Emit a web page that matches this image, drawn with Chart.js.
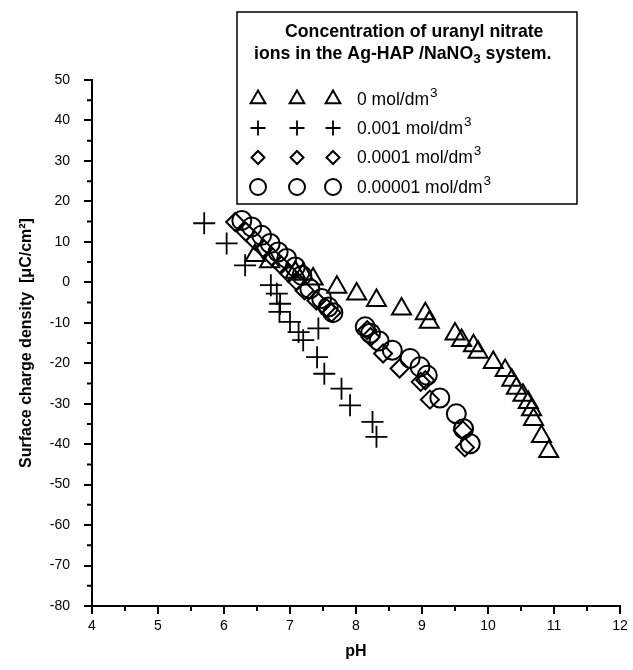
<!DOCTYPE html>
<html>
<head>
<meta charset="utf-8">
<title>Surface charge density vs pH</title>
<script src="https://cdn.jsdelivr.net/npm/chart.js"></script>
<style>
  html, body { margin: 0; padding: 0; background: #fff; }
  #wrap { width: 633px; height: 670px; }
</style>
</head>
<body>
<div id="wrap"><canvas id="chart" width="633" height="670"></canvas></div>
<script>
// --- Data ---
// 0 mol/dm3 (triangles)
const phTri = [6.47, 6.69, 7.08, 7.20, 7.35, 7.71, 8.01, 8.31, 8.69, 9.05, 9.11, 9.50, 9.60, 9.78, 9.85, 10.08, 10.26, 10.36, 10.43, 10.53, 10.61, 10.66, 10.69, 10.81, 10.92];
const qTri  = [6.6, 5.1, 2.5, 2.0, 0.8, -1.2, -2.9, -4.5, -6.6, -7.8, -9.9, -12.8, -14.4, -15.7, -17.3, -19.8, -21.8, -24.2, -26.2, -27.9, -29.7, -31.5, -33.9, -38.1, -41.8];
// 0.001 mol/dm3 (crosses)
const phCross = [5.70, 6.04, 6.32, 6.71, 6.80, 6.85, 6.84, 7.00, 7.13, 7.20, 7.43, 7.41, 7.52, 7.78, 7.91, 8.25, 8.31];
const qCross  = [14.6, 9.6, 4.2, -0.7, -2.8, -5.3, -7.3, -9.8, -12.3, -14.3, -11.4, -18.5, -22.6, -26.3, -30.4, -34.5, -38.2];
// 0.0001 mol/dm3 (diamonds)
const phDia = [6.17, 6.33, 6.47, 6.60, 6.73, 6.86, 6.98, 7.10, 7.22, 7.40, 7.55, 7.63, 8.17, 8.22, 8.41, 8.66, 8.98, 9.05, 9.12, 9.62, 9.65];
const qDia  = [14.9, 12.5, 10.3, 8.3, 6.3, 4.3, 2.3, 0.3, -2.0, -4.5, -6.3, -7.5, -11.8, -13.5, -17.6, -21.3, -24.6, -24.2, -29.0, -36.6, -40.8];
// 0.00001 mol/dm3 (circles)
const phCir = [6.27, 6.42, 6.57, 6.70, 6.82, 6.95, 7.08, 7.18, 7.30, 7.48, 7.58, 7.65, 8.14, 8.22, 8.35, 8.55, 8.82, 8.97, 9.08, 9.27, 9.52, 9.63, 9.73];
const qCir  = [15.3, 13.7, 11.6, 9.6, 7.5, 5.9, 3.8, 1.7, -1.6, -4.0, -6.1, -7.5, -11.0, -12.6, -14.5, -16.8, -18.8, -20.9, -23.0, -28.6, -32.5, -36.2, -39.9];

const seriesLabels = ['0 mol/dm', '0.001 mol/dm', '0.0001 mol/dm', '0.00001 mol/dm'];
const seriesStyles = ['triangle', 'cross', 'rectRot', 'circle'];
const seriesRadius = [11, 11, 9, 9.5];
const legendRadius = [8.5, 7.5, 6.5, 8];

const X_MIN = 4, X_MAX = 12, Y_MIN = -80, Y_MAX = 50;

const toPoints = (xs, ys) => xs.map((x, i) => ({ x: x, y: ys[i] }));

const FONT = 'Arial, "Liberation Sans", sans-serif';
Chart.defaults.font.family = FONT;
Chart.defaults.color = '#000';

// --- draws one marker (legend) with the library helper ---
function drawMarker(ctx, style, r, x, y) {
  ctx.save();
  ctx.strokeStyle = '#000';
  ctx.fillStyle = 'rgba(0,0,0,0)';
  ctx.lineWidth = style === 'cross' ? 1.8 : 2;
  Chart.helpers.drawPoint(ctx, { pointStyle: style, radius: r, borderWidth: ctx.lineWidth, rotation: 0 }, x, y);
  ctx.restore();
}

// minor ticks at half steps, outward like the major ones
const minorTicks = {
  id: 'minorTicks',
  afterDraw(chart) {
    const { ctx, scales: { x, y } } = chart;
    ctx.save();
    ctx.strokeStyle = '#000';
    ctx.lineWidth = 2;
    ctx.beginPath();
    for (let v = X_MIN + 0.5; v < X_MAX; v += 1) {
      const px = x.getPixelForValue(v);
      ctx.moveTo(px, x.top);
      ctx.lineTo(px, x.top + 5);
    }
    for (let v = Y_MIN + 5; v < Y_MAX; v += 10) {
      const py = y.getPixelForValue(v);
      ctx.moveTo(y.right, py);
      ctx.lineTo(y.right - 5, py);
    }
    ctx.stroke();
    ctx.restore();
  }
};

// boxed legend in the upper right
const boxLegend = {
  id: 'boxLegend',
  afterDraw(chart) {
    const ctx = chart.ctx;
    ctx.save();
    ctx.fillStyle = '#fff';
    ctx.fillRect(237, 12, 340, 192);
    ctx.strokeStyle = '#000';
    ctx.lineWidth = 1.5;
    ctx.strokeRect(237, 12, 340, 192);

    ctx.fillStyle = '#000';
    ctx.textBaseline = 'middle';
    ctx.textAlign = 'left';
    ctx.font = 'bold 17.7px ' + FONT;
    ctx.fillText('Concentration of uranyl nitrate', 285, 32);
    // second line with subscript 3
    let x = 254;
    const part1 = 'ions in the Ag-HAP /NaNO';
    ctx.fillText(part1, x, 54);
    x += ctx.measureText(part1).width;
    ctx.font = 'bold 13.5px ' + FONT;
    ctx.fillText('3', x, 59);
    x += ctx.measureText('3').width;
    ctx.font = 'bold 17.7px ' + FONT;
    ctx.fillText(' system.', x, 54);

    const rowY = [99, 128, 157.5, 187];
    const colX = [258, 297, 333];
    seriesLabels.forEach((label, i) => {
      colX.forEach(cx => drawMarker(ctx, seriesStyles[i], legendRadius[i], cx, rowY[i]));
      ctx.fillStyle = '#000';
      ctx.font = '17.5px ' + FONT;
      ctx.fillText(label, 357, rowY[i] + 1);
      const w = ctx.measureText(label).width;
      ctx.font = '13.5px ' + FONT;
      ctx.fillText('3', 357 + w + 1, rowY[i] - 6);
    });
    ctx.restore();
  }
};

const makeSet = (label, pts, i) => ({
  label: label,
  data: pts,
  pointStyle: seriesStyles[i],
  pointRadius: seriesRadius[i],
  pointHoverRadius: seriesRadius[i],
  borderColor: '#000',
  backgroundColor: 'rgba(0,0,0,0)',
  pointBorderWidth: i === 1 ? 1.8 : 2,
  showLine: false
});

new Chart(document.getElementById('chart'), {
  type: 'scatter',
  data: {
    datasets: [
      makeSet(seriesLabels[0], toPoints(phTri, qTri), 0),
      makeSet(seriesLabels[1], toPoints(phCross, qCross), 1),
      makeSet(seriesLabels[2], toPoints(phDia, qDia), 2),
      makeSet(seriesLabels[3], toPoints(phCir, qCir), 3)
    ]
  },
  options: {
    responsive: false,
    animation: false,
    layout: { padding: { top: 80, right: 13, left: 0, bottom: 0 } },
    plugins: { legend: { display: false }, tooltip: { enabled: false } },
    scales: {
      x: {
        type: 'linear',
        min: X_MIN, max: X_MAX,
        afterFit: s => { s.height = 64; },
        ticks: { stepSize: 1, font: { size: 14 }, color: '#000', padding: 4, maxRotation: 0 },
        grid: { drawOnChartArea: false, drawTicks: true, tickLength: 8, color: '#000', lineWidth: 2 },
        border: { color: '#000', width: 2 },
        title: { display: true, text: 'pH', font: { size: 16, weight: 'bold' }, color: '#000', padding: { top: 0, bottom: 9 } }
      },
      y: {
        type: 'linear',
        min: Y_MIN, max: Y_MAX,
        afterFit: s => { s.width = 92; },
        ticks: { stepSize: 10, font: { size: 14 }, color: '#000', padding: 14 },
        grid: { drawOnChartArea: false, drawTicks: true, tickLength: 8, color: '#000', lineWidth: 2 },
        border: { color: '#000', width: 2 },
        title: { display: true, text: 'Surface charge density  [\u03BCC/cm\u00B2]', font: { size: 16, weight: 'bold' }, color: '#000', padding: { top: 17, bottom: 0 } }
      }
    }
  },
  plugins: [minorTicks, boxLegend]
});
</script>
</body>
</html>
